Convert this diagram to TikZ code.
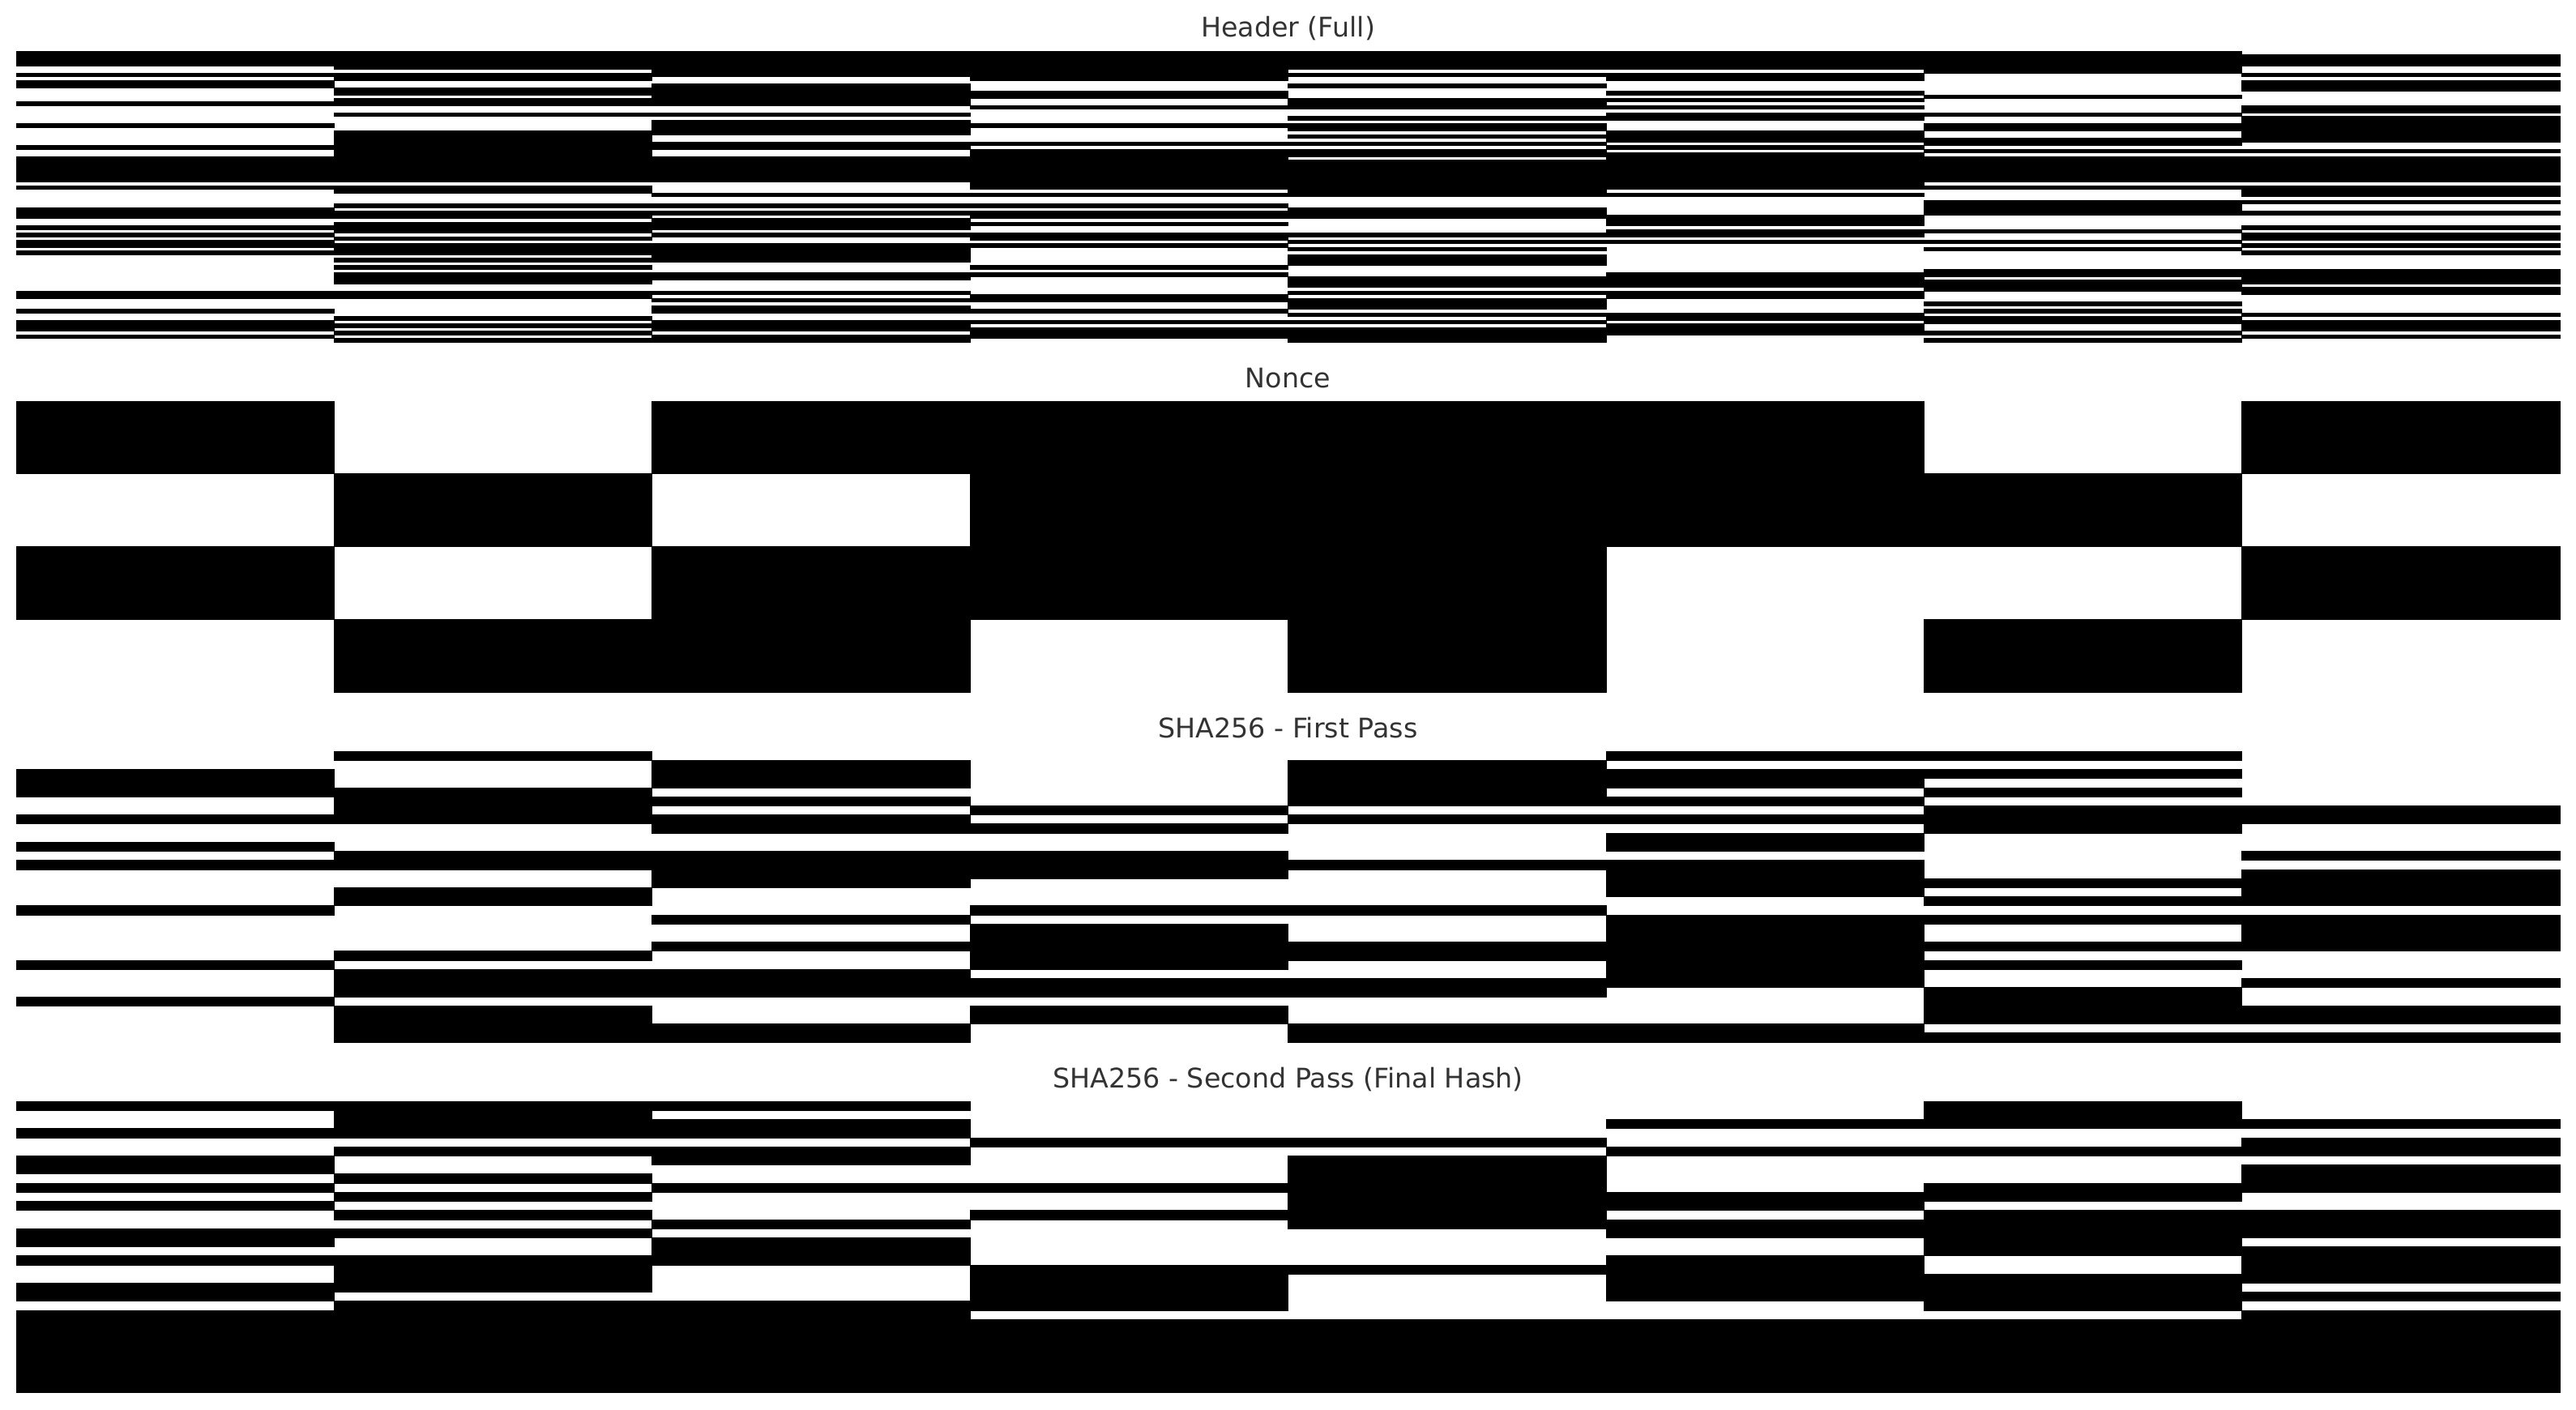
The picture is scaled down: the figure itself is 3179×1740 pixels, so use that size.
\documentclass[tikz,border=0pt]{standalone}
\usepackage{fontspec}
\setmainfont{DejaVu Sans}
\definecolor{titlegray}{RGB}{51,51,51}
\newcount\bytev
\newcount\tmpv
\tikzset{
  bitfill/.style={fill=black,draw=black,line width=0.25pt},
  paneltitle/.style={font=\fontsize{12}{14}\selectfont,text=titlegray,anchor=base,inner sep=0pt}
}
% #1 top y, #2 row height, #3 list of bytes (upper-case hex)
\newcommand\bitpanel[3]{%
  \foreach \byte [count=\r from 0] in {#3} {
    \bytev="\byte\relax
    \foreach \c in {0,...,7} {
      \tmpv=\bytev
      \pgfmathtruncatemacro\pw{2^(7-\c)}
      \divide\tmpv by \pw\relax
      \ifodd\tmpv\else
        \fill[bitfill] ({20+\c*392.375},{#1+\r*#2}) rectangle ++(392.375,#2);
      \fi
    }
  }%
}
\begin{document}
\begin{tikzpicture}[x=0.36pt,y=-0.36pt]
\useasboundingbox (0,0) rectangle (3179,1740);
\node[paneltitle] (t1) at (1589.5,46) {Header (Full)};
\node[paneltitle] (t2) at (1589.5,478) {Nonce};
\node[paneltitle] (t3) at (1589.5,910) {SHA256 - First Pass};
\node[paneltitle] (t4) at (1589.5,1342) {SHA256 - Second Pass (Final Hash)};
% header (80 bytes)
\bitpanel{63}{4.4875}{01,00,00,00,
81,CD,02,AB,7E,56,9E,8B,CD,93,17,E2,FE,99,F2,DE,44,D4,9A,B2,B8,85,1B,A4,A3,08,00,00,00,00,00,00,
E3,20,B6,C2,FF,FC,8D,75,04,23,DB,8B,1E,B9,42,AE,71,0E,95,1E,D7,97,F7,AF,FC,88,92,B0,F1,FC,12,2B,
C7,F5,D7,4D,F2,B9,44,1A,42,A1,46,95}
% nonce
\bitpanel{495}{89.75}{42,A1,46,95}
% first pass
\bitpanel{927}{11.21875}{B9,D7,51,53,35,93,AC,10,CD,FB,7B,8E,03,CA,D8,BA,BC,67,D8,EA,EA,C0,A3,69,9B,82,85,7D,AC,AC,93,90}
% second pass
\bitpanel{1359}{11.21875}{1D,BD,98,1F,E6,98,57,76,B6,44,B1,73,A4,D0,38,5D,DC,1A,A2,A8,29,68,8D,1E,00,00,00,00,00,00,00,00}
\end{tikzpicture}
\end{document}
